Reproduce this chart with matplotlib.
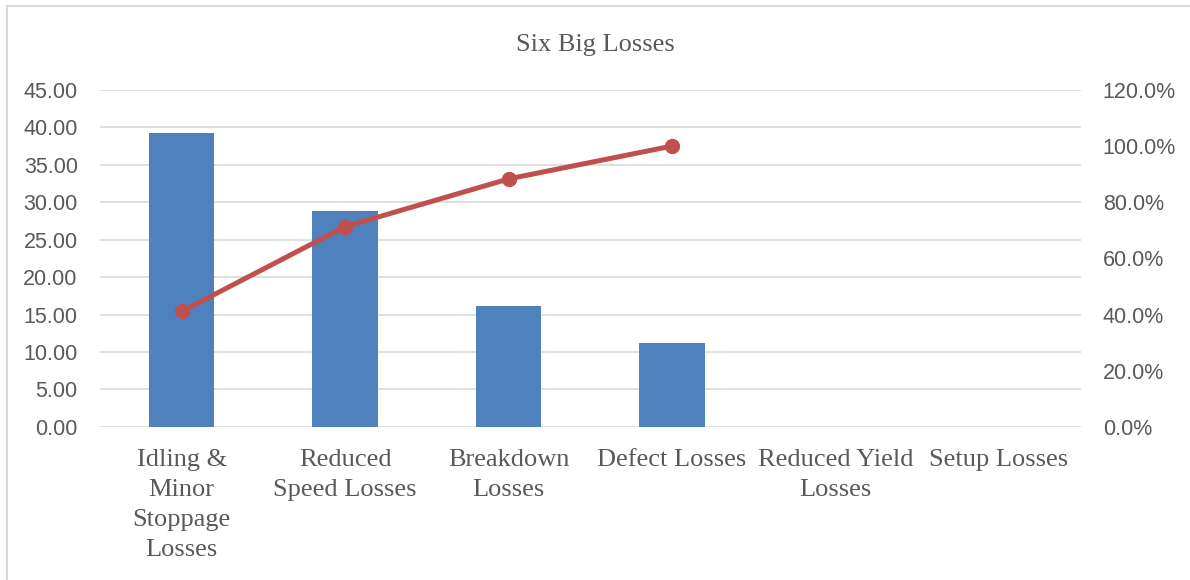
import matplotlib.pyplot as plt
import numpy as np
from matplotlib.ticker import FuncFormatter, MultipleLocator

categories = ['Idling &\nMinor\nStoppage\nLosses', 'Reduced\nSpeed Losses',
              'Breakdown\nLosses', 'Defect Losses', 'Reduced Yield\nLosses',
              'Setup Losses']
losses = [39.3, 28.8, 16.2, 11.2, 0.0, 0.0]
cum_pct = [41.1, 71.3, 88.3, 100.0]

bar_color = '#4f81bd'
line_color = '#c0504d'
grid_color = '#d9d9d9'
text_color = '#595959'

fig = plt.figure(figsize=(11.9, 5.8), dpi=100)
ax = fig.add_axes([0.084, 0.264, 0.824, 0.581])
x = np.arange(len(categories))

ax.bar(x, losses, width=0.4, color=bar_color, zorder=3)
ax.set_xlim(-0.5, len(categories) - 0.5)
ax.set_ylim(0, 45)
ax.yaxis.set_major_locator(MultipleLocator(5))
ax.yaxis.set_major_formatter(FuncFormatter(lambda v, p: f'{v:.2f}'))
ax.grid(axis='y', color=grid_color, linewidth=1.2, zorder=0)
ax.set_axisbelow(True)
for s in ax.spines.values():
    s.set_visible(False)
ax.tick_params(axis='both', length=0)
ax.tick_params(axis='y', pad=16, labelsize=15.5, labelcolor=text_color)
for lab in ax.get_yticklabels():
    lab.set_family('Liberation Sans')
ax.set_xticks(x)
ax.set_xticklabels(categories, family='Liberation Serif', fontsize=19,
                   color=text_color, linespacing=1.47)
ax.tick_params(axis='x', pad=16)

ax2 = ax.twinx()
ax2.plot(x[:len(cum_pct)], cum_pct, color=line_color, linewidth=3.6,
         marker='o', markersize=10, zorder=4)
ax2.set_ylim(0, 120)
ax2.yaxis.set_major_locator(MultipleLocator(20))
ax2.yaxis.set_major_formatter(FuncFormatter(lambda v, p: f'{v:.1f}%'))
for s in ax2.spines.values():
    s.set_visible(False)
ax2.tick_params(axis='y', length=0, pad=16, labelsize=15.5, labelcolor=text_color)
for lab in ax2.get_yticklabels():
    lab.set_family('Liberation Sans')

fig.text(0.5, 0.922, 'Six Big Losses', ha='center', va='center',
         family='Liberation Serif', fontsize=19, color=text_color)

# chart border (left and top edges visible in the source)
fig.add_artist(plt.Line2D([0.0055, 0.0055], [0, 0.99], transform=fig.transFigure,
                          color=grid_color, linewidth=1.5))
fig.add_artist(plt.Line2D([0.0055, 1.0], [0.99, 0.99], transform=fig.transFigure,
                          color=grid_color, linewidth=1.5))

fig.savefig('out.png', dpi=100)
